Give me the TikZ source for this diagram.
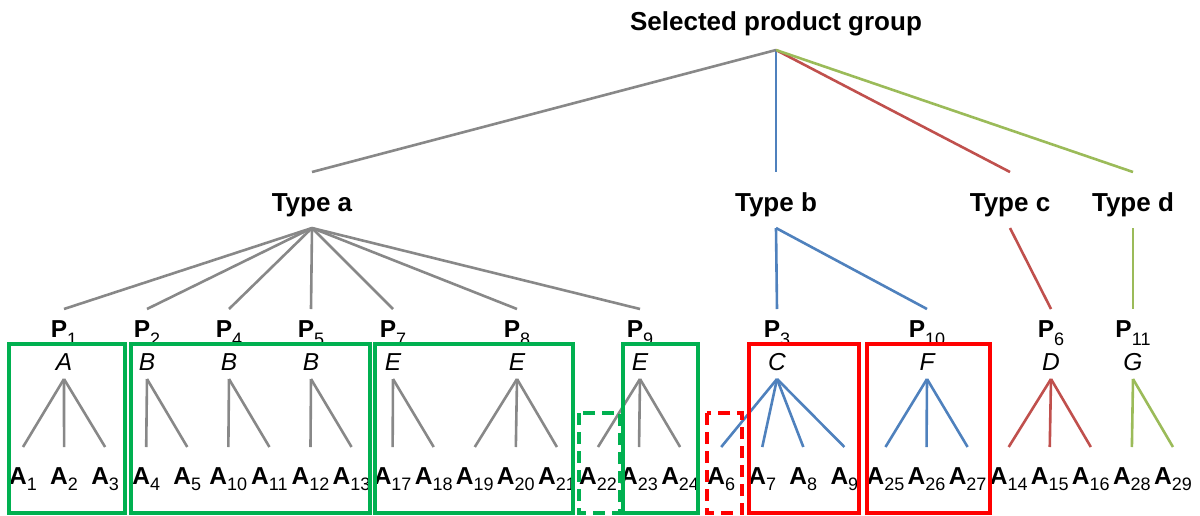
\documentclass[tikz,border=0pt]{standalone}
\usepackage{fontspec}
\setmainfont{Liberation Sans}

\definecolor{treegray}{RGB}{136,136,136}
\definecolor{treeblue}{RGB}{79,129,189}
\definecolor{treered}{RGB}{192,80,77}
\definecolor{treegreen}{RGB}{155,187,89}
\definecolor{boxgreen}{RGB}{0,176,80}
\definecolor{boxred}{RGB}{255,0,0}

% bold letter followed by a lowered, regular-weight index
\newcommand{\idxlabel}[3]{\textbf{#1}\raisebox{-#3}{\fontsize{18}{18}\selectfont #2}}

\tikzset{
  head/.style={font=\fontsize{26}{26}\selectfont\bfseries, anchor=base, inner sep=0pt},
  prod/.style={font=\fontsize{24.5}{24.5}\selectfont, anchor=base, inner sep=0pt},
  cat/.style={font=\fontsize{24.5}{24.5}\selectfont\itshape, anchor=base, inner sep=0pt},
  link/.style={line width=2.6pt},
  grp/.style={line width=4pt},
  grpdash/.style={grp, dash pattern=on 12pt off 7pt},
}

\begin{document}
\begin{tikzpicture}[x=1pt, y=-1pt]
\useasboundingbox (0,0) rectangle (1200,515);

% root
\node[head] (root) at (776,30) {Selected product group};
\coordinate (root-out) at (776,50);

% product types
\foreach \t/\x/\c in {a/312/treegray, b/776/treeblue, c/1010/treered, d/1133/treegreen} {
  \node[head] (type\t) at (\x,211) {Type \t};
  \coordinate (type\t-in) at (\x,172);
  \coordinate (type\t-out) at (\x,228);
  \draw[link, \c] (root-out) -- (type\t-in);
}

% articles along the bottom row
\foreach \n [count=\i from 0] in {1,2,3,4,5,10,11,12,13,17,18,19,20,21,22,23,24,6,7,8,9,25,26,27,14,15,16,28,29} {
  \node[prod] (a\n) at ({23+41.07*\i},484) {\idxlabel{A}{\n}{6pt}};
  \coordinate (a\n-top) at ({23+41.07*\i},447);
}

% products with their category letter
\foreach \n/\x/\k in {1/64/A, 2/147/B, 4/229/B, 5/311/B, 7/393/E, 8/517/E, 9/640/E, 3/777/C, 10/927/F, 6/1051/D, 11/1133/G} {
  \coordinate (p\n-in) at (\x,309);
  \node[prod] (p\n) at (\x,337) {\idxlabel{P}{\n}{8pt}};
  \node[cat] (k\n) at (\x,370) {\k};
  \coordinate (p\n-out) at (\x,379);
}

% type -> product
\foreach \n in {1,2,4,5,7,8,9} \draw[link, treegray] (typea-out) -- (p\n-in);
\foreach \n in {3,10} \draw[link, treeblue] (typeb-out) -- (p\n-in);
\draw[link, treered] (typec-out) -- (p6-in);
\draw[link, treegreen] (typed-out) -- (p11-in);

% product -> article
\foreach \p/\c/\list in {1/treegray/{1,2,3}, 2/treegray/{4,5}, 4/treegray/{10,11},
    5/treegray/{12,13}, 7/treegray/{17,18}, 8/treegray/{19,20,21}, 9/treegray/{22,23,24},
    3/treeblue/{6,7,8,9}, 10/treeblue/{25,26,27}, 6/treered/{14,15,16}, 11/treegreen/{28,29}} {
  \foreach \a in \list \draw[link, \c] (p\p-out) -- (a\a-top);
}

% groupings
\draw[grp, boxgreen] (9,344) rectangle (125,513);
\draw[grp, boxgreen] (131,344) rectangle (370,513);
\draw[grp, boxgreen] (375,344) rectangle (573,513);
\draw[grp, boxgreen] (623,344) rectangle (698,513);
\draw[grp, boxred] (749,344) rectangle (859,513);
\draw[grp, boxred] (867,344) rectangle (990,513);
\draw[grpdash, boxgreen] (579,413) rectangle (620,513);
\draw[grpdash, boxred] (707,413) rectangle (742,513);
\end{tikzpicture}
\end{document}
